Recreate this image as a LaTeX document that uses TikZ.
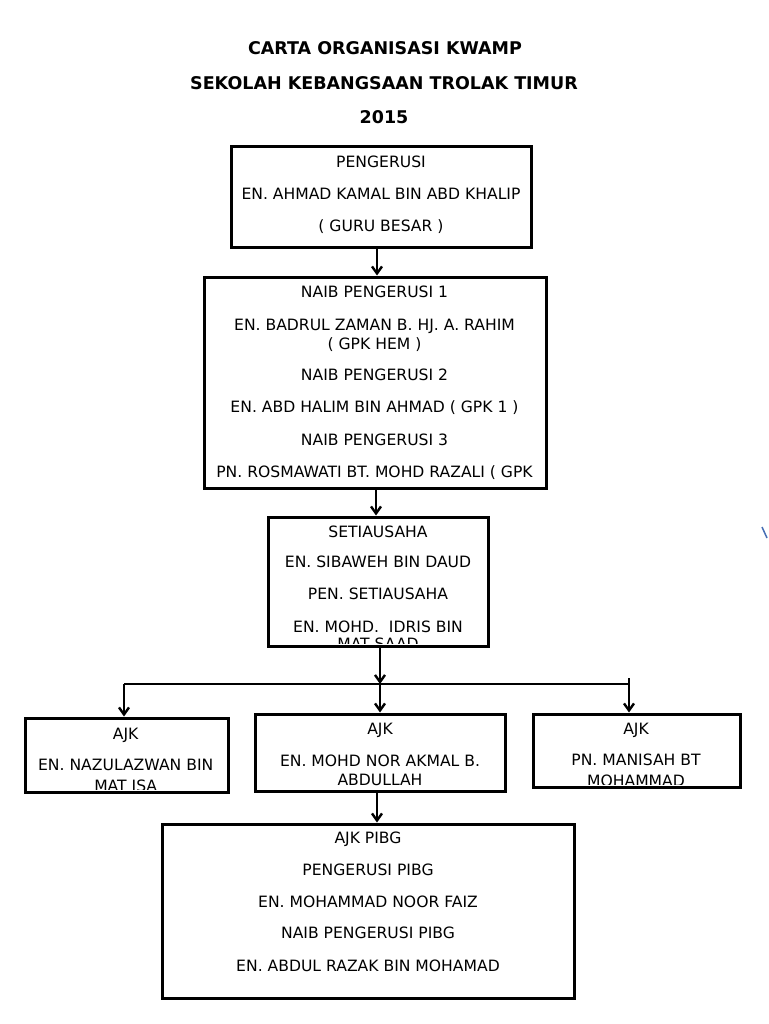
\documentclass[tikz,border=0pt]{standalone}
\usepackage{fontspec}
\setmainfont{DejaVu Sans}
\usetikzlibrary{arrows.meta}
\definecolor{markblue}{RGB}{70,110,180}
\newcommand\tline[4]{\node[txt] (#1) at ({#2},{#3+5.7}) {#4};}
\begin{document}
\begin{tikzpicture}[x=1pt,y=-1pt,
  box/.style={draw,line width=3pt,inner sep=0pt},
  txt/.style={inner sep=0pt,anchor=base,font=\fontsize{15.6}{18}\selectfont},
  ttl/.style={inner sep=0pt,anchor=base,font=\bfseries\fontsize{17.5}{20}\selectfont},
  arr/.style={line width=2.4pt,-{Straight Barb[length=7pt,width=10pt]}},
  con/.style={line width=2.4pt}]
\useasboundingbox[fill=white] (0,0) rectangle (768,1024);

% titles
\node[ttl] (t1) at (385,54.4) {CARTA ORGANISASI KWAMP};
\node[ttl] (t2) at (384,89.7) {SEKOLAH KEBANGSAAN TROLAK TIMUR};
\node[ttl] (t3) at (384,123.1) {2015};

% boxes
\node[box,minimum width=300pt,minimum height=100pt] (b1) at (381,197) {};
\node[box,minimum width=342pt,minimum height=211pt] (b2) at (375,382.5) {};
\node[box,minimum width=220pt,minimum height=129pt] (b3) at (378,581.5) {};
\node[box,minimum width=203pt,minimum height=74pt] (a1) at (126.5,755) {};
\node[box,minimum width=250pt,minimum height=77pt] (a2) at (380,752.5) {};
\node[box,minimum width=207pt,minimum height=73pt] (a3) at (636.5,750.5) {};
\node[box,minimum width=412pt,minimum height=174pt] (p) at (368,911) {};

% box 1
\tline{b1a}{381}{161.7}{PENGERUSI}
\tline{b1b}{381}{194}{EN. AHMAD KAMAL BIN ABD KHALIP}
\tline{b1c}{381}{226}{( GURU BESAR )}

% box 2
\tline{b2a}{374.5}{291.7}{NAIB PENGERUSI 1}
\tline{b2b}{374.5}{325}{EN. BADRUL ZAMAN B. HJ. A. RAHIM}
\tline{b2c}{374.5}{343.5}{( GPK HEM )}
\tline{b2d}{374.5}{375}{NAIB PENGERUSI 2}
\tline{b2e}{374.5}{406.3}{EN. ABD HALIM BIN AHMAD ( GPK 1 )}
\tline{b2f}{374.5}{440}{NAIB PENGERUSI 3}
\tline{b2g}{374.5}{472}{PN. ROSMAWATI BT. MOHD RAZALI ( GPK}

% box 3
\begin{scope}
\clip (b3.north west) rectangle ([yshift=4pt]b3.south east);
\tline{b3a}{378}{531.7}{SETIAUSAHA}
\tline{b3b}{378}{561.7}{EN. SIBAWEH BIN DAUD}
\tline{b3c}{378}{594}{PEN. SETIAUSAHA}
\tline{b3d}{378}{626.7}{EN. MOHD.~ IDRIS BIN}
\tline{b3e}{378}{643.5}{MAT SAAD}
\end{scope}

% AJK boxes
\begin{scope}
\clip (a1.north west) rectangle ([yshift=4pt]a1.south east);
\tline{a1a}{125.7}{734}{AJK}
\tline{a1b}{125.7}{765}{EN. NAZULAZWAN BIN}
\tline{a1c}{125.7}{785.5}{MAT ISA}
\end{scope}
\tline{a2a}{380}{729}{AJK}
\tline{a2b}{380}{761}{EN. MOHD NOR AKMAL B.}
\tline{a2c}{380}{780}{ABDULLAH}
\begin{scope}
\clip (a3.north west) rectangle ([yshift=4pt]a3.south east);
\tline{a3a}{636}{729}{AJK}
\tline{a3b}{636}{760}{PN. MANISAH BT}
\tline{a3c}{636}{780.5}{MOHAMMAD}
\end{scope}

% PIBG box
\tline{pa}{368}{838}{AJK PIBG}
\tline{pb}{368}{870}{PENGERUSI PIBG}
\tline{pc}{368}{902}{EN. MOHAMMAD NOOR FAIZ}
\tline{pd}{368}{933}{NAIB PENGERUSI PIBG}
\tline{pe}{368}{965.5}{EN. ABDUL RAZAK BIN MOHAMAD}

% connectors
\coordinate (busL) at (124,684);
\coordinate (busM) at (380,684);
\coordinate (busR) at (629,684);
\coordinate (busRtop) at (629,678);
\draw[arr] ([xshift=-4pt]b1.south) -- ([xshift=-4pt]b1.south |- b2.north);
\draw[arr] ([xshift=1pt]b2.south) -- ([xshift=1pt]b2.south |- b3.north);
\draw[arr] ([xshift=2pt]b3.south) -- (busM);
\draw[con] (busL) -- (busR);
\draw[arr] (busL) -- (busL |- a1.north);
\draw[arr] (busM) -- (busM |- a2.north);
\draw[arr] (busRtop) -- (busRtop |- a3.north);
\draw[arr] ([xshift=-3pt]a2.south) -- ([xshift=-3pt]a2.south |- p.north);

% stray blue mark at the right edge
\draw[markblue,line width=1.5pt] (762,527) -- (767,538);
\end{tikzpicture}
\end{document}
